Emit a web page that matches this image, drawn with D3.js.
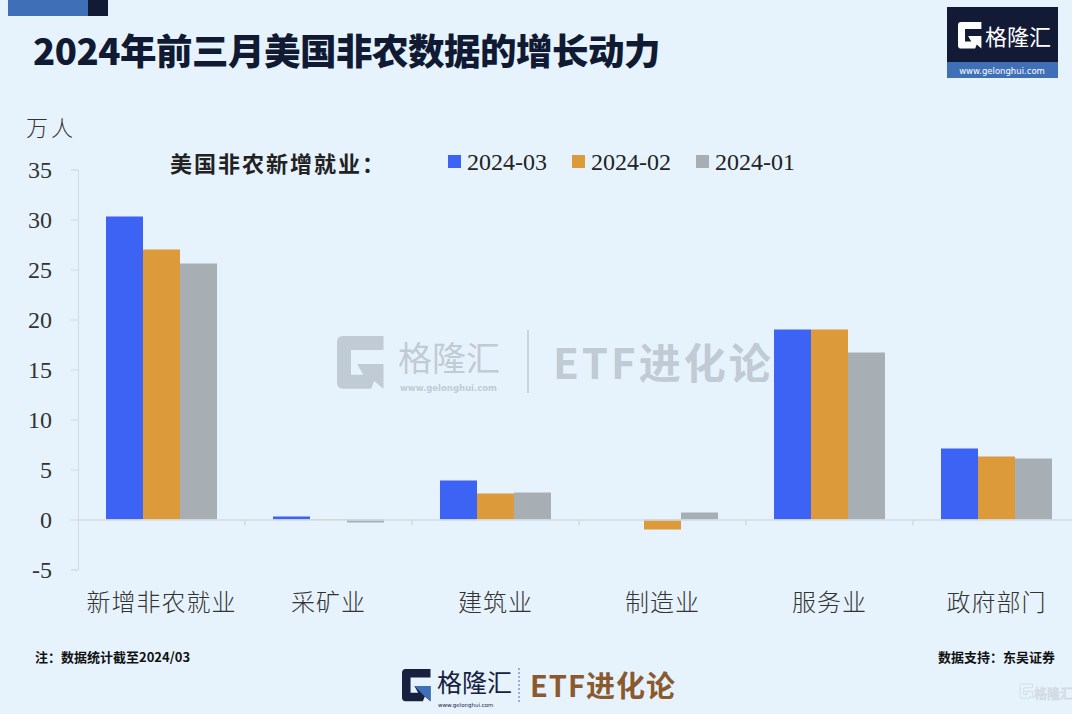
<!DOCTYPE html>
<html><head><meta charset="utf-8">
<script src="https://cdn.jsdelivr.net/npm/d3@7"></script>
<style>
html,body{margin:0;padding:0;background:#e7f3fc;}
svg{display:block;}
</style></head>
<body>
<script>
const categories = ["新增非农就业","采矿业","建筑业","制造业","服务业","政府部门"];
const seriesNames = ["2024-03","2024-02","2024-01"];
const mar = [30.3, 0.3, 3.9, 0.0, 19.0, 7.1];
const feb = [27.0, 0.05, 2.6, -1.0, 19.0, 6.3];
const jan = [25.6, -0.3, 2.7, 0.7, 16.7, 6.1];
const yTicks = [-5, 0, 5, 10, 15, 20, 25, 30, 35];
const colors = ["#3d63f4", "#dd9a3a", "#a7afb5"];
const title = "2024年前三月美国非农数据的增长动力";
const unitLabel = "万人";
const legendTitle = "美国非农新增就业：";
const noteText = "注：数据统计截至2024/03";
const sourceText = "数据支持：东吴证券";

const W = 1072, H = 714;
const svg = d3.select("body").append("svg").attr("width", W).attr("height", H);
svg.append("rect").attr("width", W).attr("height", H).attr("fill", "#e7f3fc");

// top-left decoration
svg.append("rect").attr("x", 8).attr("y", 0).attr("width", 80).attr("height", 16).attr("fill", "#3f6fb7");
svg.append("rect").attr("x", 88).attr("y", 0).attr("width", 20).attr("height", 16).attr("fill", "#121a36");

// title
svg.append("text").attr("x", 33).attr("y", 65).text(title)
  .attr("font-family", "Noto Sans CJK SC").attr("font-weight", 900)
  .attr("font-size", 36.5).attr("letter-spacing", -0.5).attr("fill", "#101a33");

const gPath = "M4,0 H30 V9 H9 V25 H17 L13,18 H30 V34 L24,29 L22,34 H4 Q0,34 0,30 V4 Q0,0 4,0 Z";

// top right logo
const tl = svg.append("g");
tl.append("rect").attr("x", 947).attr("y", 7).attr("width", 111).attr("height", 56).attr("fill", "#121a36");
tl.append("rect").attr("x", 947).attr("y", 62).attr("width", 111).attr("height", 16).attr("fill", "#3f6fb7");
tl.append("path").attr("d", gPath).attr("fill", "#fff").attr("transform", "translate(958,22) scale(0.78)");
tl.append("text").attr("x", 985).attr("y", 45).text("格隆汇").attr("font-family", "Noto Sans CJK SC")
  .attr("font-size", 22).attr("fill", "#fff");
tl.append("text").attr("x", 1002).attr("y", 74).attr("text-anchor", "middle").text("www.gelonghui.com")
  .attr("font-family", "DejaVu Sans").attr("font-size", 8.5).attr("fill", "#fff");

// chart
const x0 = d3.scaleBand().domain(categories).range([78, 1080]);
const x1 = d3.scaleBand().domain(seriesNames).range([0, 111]);
const y = d3.scaleLinear().domain([-5, 35]).range([569.5, 169.5]);

// watermark center
const wm = svg.append("g").attr("opacity", 0.75);
wm.append("path").attr("d", gPath).attr("fill", "#b3bec8").attr("transform", "translate(337,336) scale(1.55)");
wm.append("text").attr("x", 398).attr("y", 371).text("格隆汇").attr("font-family", "Noto Sans CJK SC")
  .attr("font-size", 34).attr("fill", "#b3bec8");
wm.append("text").attr("x", 400).attr("y", 391).text("www.gelonghui.com").attr("font-family", "DejaVu Sans")
  .attr("font-weight", "bold").attr("font-size", 8.5).attr("fill", "#b3bec8");
wm.append("line").attr("x1", 528).attr("x2", 528).attr("y1", 330).attr("y2", 393).attr("stroke", "#b3bec8").attr("stroke-width", 1.5);
wm.append("text").attr("x", 553).attr("y", 379).text("ETF进化论").attr("font-family", "Noto Sans CJK SC")
  .attr("font-weight", "bold").attr("font-size", 42).attr("letter-spacing", 3).attr("fill", "#b3bec8");

// y axis
const yAxis = svg.append("g").attr("transform", "translate(78,0)")
  .call(d3.axisLeft(y).tickValues(yTicks).tickSize(7).tickPadding(19).tickFormat(d => String(d)));
yAxis.select(".domain").attr("stroke", "#d3dbe2");
yAxis.selectAll(".tick line").attr("stroke", "#d3dbe2");
yAxis.selectAll(".tick text").attr("font-family", "Liberation Serif").attr("font-size", 24).attr("fill", "#333");

// bars
const data = categories.map((c, i) => ({cat: c, vals: [mar[i], feb[i], jan[i]]}));
const groups = svg.append("g").selectAll("g").data(data).join("g")
  .attr("transform", d => `translate(${x0(d.cat) + (x0.bandwidth() - 111) / 2},0)`);
groups.selectAll("rect").data(d => d.vals.map((v, j) => ({v, s: seriesNames[j], j}))).join("rect")
  .attr("x", d => x1(d.s)).attr("width", x1.bandwidth())
  .attr("y", d => y(Math.max(0, d.v))).attr("height", d => Math.abs(y(d.v) - y(0)))
  .attr("fill", d => colors[d.j]);

// x axis at zero
const xAxis = svg.append("g").attr("transform", `translate(0,${y(0)})`)
  .call(d3.axisBottom(x0).tickSize(0).tickPadding(0));
xAxis.select(".domain").attr("stroke", "#d3dbe2").attr("stroke-width", 1.5);
xAxis.selectAll(".tick text").remove();
svg.append("g").selectAll("line").data(categories.slice(1)).join("line")
  .attr("x1", d => x0(d)).attr("x2", d => x0(d)).attr("y1", y(0)).attr("y2", y(0) + 6)
  .attr("stroke", "#d3dbe2").attr("stroke-width", 1.5);
svg.append("g").selectAll("text").data(categories).join("text")
  .attr("x", d => x0(d) + x0.bandwidth() / 2).attr("y", 611).attr("text-anchor", "middle")
  .text(d => d).attr("font-family", "Noto Sans CJK SC").attr("font-size", 24).attr("font-weight", 300)
  .attr("letter-spacing", 1).attr("fill", "#333");

// unit
svg.append("text").attr("x", 76).attr("y", 136).attr("text-anchor", "end").text(unitLabel)
  .attr("font-family", "Noto Sans CJK SC").attr("font-size", 22).attr("font-weight", 300)
  .attr("letter-spacing", 3).attr("fill", "#333");

// legend
svg.append("text").attr("x", 170).attr("y", 172).text(legendTitle)
  .attr("font-family", "Noto Sans CJK SC").attr("font-weight", "bold").attr("font-size", 22)
  .attr("letter-spacing", 2).attr("fill", "#222");
const legX = [448, 572, 696];
const lg = svg.append("g").selectAll("g").data(seriesNames).join("g")
  .attr("transform", (d, i) => `translate(${legX[i]},0)`);
lg.append("rect").attr("x", 0).attr("y", 155).attr("width", 13).attr("height", 13).attr("fill", (d, i) => colors[i]);
lg.append("text").attr("x", 19).attr("y", 170).text(d => d)
  .attr("font-family", "Liberation Serif").attr("font-size", 24).attr("fill", "#222");

// footer notes
svg.append("text").attr("x", 35).attr("y", 662).text(noteText).attr("font-family", "Noto Sans CJK SC")
  .attr("font-weight", "bold").attr("font-size", 13).attr("fill", "#111");
svg.append("text").attr("x", 1055).attr("y", 662).attr("text-anchor", "end").text(sourceText).attr("font-family", "Noto Sans CJK SC")
  .attr("font-weight", "bold").attr("font-size", 13).attr("fill", "#111");

// bottom logo
const bl = svg.append("g");
bl.append("path").attr("d", gPath).attr("fill", "#16203f").attr("transform", "translate(402,669) scale(0.95)");
bl.append("path").attr("d", "M13,18 H30 V34 L24,29 Z").attr("fill", "#3f6fb7").attr("transform", "translate(402,669) scale(0.95)");
bl.append("text").attr("x", 437).attr("y", 692).text("格隆汇").attr("font-family", "Noto Sans CJK SC")
  .attr("font-size", 25).attr("fill", "#16203f");
bl.append("text").attr("x", 438).attr("y", 707).text("www.gelonghui.com").attr("font-family", "DejaVu Sans")
  .attr("font-size", 5.5).attr("fill", "#16203f");
bl.append("line").attr("x1", 519).attr("x2", 519).attr("y1", 668).attr("y2", 703).attr("stroke", "#3f6fb7")
  .attr("stroke-dasharray", "2,2");
bl.append("text").attr("x", 530).attr("y", 697).text("ETF进化论").attr("font-family", "Noto Sans CJK SC")
  .attr("font-weight", "bold").attr("font-size", 29).attr("letter-spacing", 1).attr("fill", "#8a5a2e");

// bottom right faded mark
const br = svg.append("g").attr("opacity", 0.6);
br.append("path").attr("d", gPath).attr("fill", "none").attr("stroke", "#c4ccd3").attr("stroke-width", 2)
  .attr("transform", "translate(1020,684) scale(0.42)");
br.append("text").attr("x", 1034).attr("y", 698).text("格隆汇").attr("font-family", "Noto Sans CJK SC")
  .attr("font-size", 13).attr("fill", "none").attr("stroke", "#c4ccd3").attr("stroke-width", 0.8);
</script>
</body></html>
